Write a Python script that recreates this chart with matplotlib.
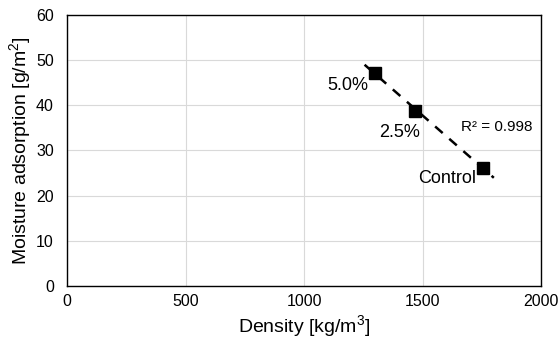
import matplotlib.pyplot as plt
import numpy as np

plt.rcParams["font.family"] = ["Liberation Sans", "DejaVu Sans"]
plt.rcParams["mathtext.fontset"] = "custom"
plt.rcParams["mathtext.rm"] = "Liberation Sans"
plt.rcParams["mathtext.default"] = "regular"

# Data
density = [1300, 1468, 1755]
moisture = [47.3, 38.7, 26.2]
labels = ["5.0%", "2.5%", "Control"]
label_offsets = [(-20, -9.5), (-11.5, -15), (-26, -8)]

fig, ax = plt.subplots(figsize=(5.58, 3.42), dpi=100)
fig.subplots_adjust(left=0.12, right=0.97, bottom=0.165, top=0.955)

# Linear trendline, extended a bit on both sides
slope, intercept = np.polyfit(density, moisture, 1)
x_fit = np.array([min(density) - 45, max(density) + 45])
ax.plot(x_fit, slope * x_fit + intercept, color="black", lw=1.8,
        dashes=(4, 3.5), zorder=2)

ax.plot(density, moisture, "s", color="black", ms=8.5, zorder=3)

for x, y, txt, off in zip(density, moisture, labels, label_offsets):
    ax.annotate(txt, (x, y), xytext=off, textcoords="offset points",
                ha="center", va="center", fontsize=13)

ax.text(1814, 35.3, "R² = 0.998", fontsize=11, ha="center", va="center")

ax.set_xlim(0, 2000)
ax.set_ylim(0, 60)
ax.set_xticks([0, 500, 1000, 1500, 2000])
ax.set_yticks(range(0, 61, 10))
ax.tick_params(axis="y", length=0, labelsize=11.5, pad=9.5)
ax.tick_params(axis="x", length=0, labelsize=11.5, pad=6)
ax.grid(True, color="#d9d9d9", lw=0.8)
ax.set_axisbelow(True)
for s in ax.spines.values():
    s.set_linewidth(1.0)

ax.set_xlabel("Density [kg/m$^3$]", fontsize=14, labelpad=3)
ax.set_ylabel("Moisture adsorption [g/m$^2$]", fontsize=14, labelpad=2)

plt.savefig("out.png", dpi=100)
